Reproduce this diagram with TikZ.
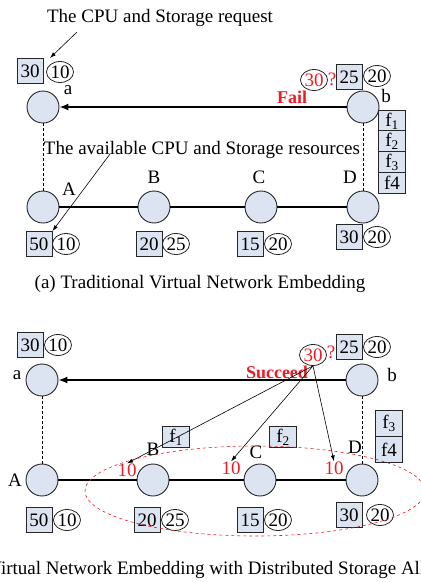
\documentclass[tikz,border=0pt]{standalone}
\usepackage{fontspec}
\setmainfont{Liberation Serif}
\usetikzlibrary{shapes.geometric,arrows.meta}
\definecolor{nodefill}{RGB}{220,228,242}
\definecolor{failred}{RGB}{237,28,36}
\newcommand{\figfont}{\fontsize{19}{22}\selectfont}
\newcommand{\tagfont}{\fontsize{18}{20}\selectfont\bfseries}

\tikzset{
  vnode/.style={circle, draw=black!85, line width=0.9pt, fill=nodefill, minimum size=32pt, inner sep=0pt},
  cpubox/.style={rectangle, draw=black!85, line width=0.8pt, fill=nodefill, minimum width=26pt, minimum height=25pt, inner sep=0pt},
  stocirc/.style={ellipse, draw=black!85, line width=0.8pt, minimum width=27pt, minimum height=21pt, inner sep=0pt},
  fbox/.style={rectangle, draw=black!85, line width=0.8pt, fill=nodefill, minimum width=27pt, minimum height=21pt, inner sep=0pt},
  share/.style={text=failred, inner sep=0pt},
  tip/.style={-{Latex[length=6pt,width=4pt]}, line width=0.6pt},
  vlink/.style={line width=1.5pt, -{Latex[length=9pt,width=7pt]}},
  plink/.style={line width=1.5pt},
  updown/.style={densely dashed, line width=0.6pt},
}

\begin{document}
\begin{tikzpicture}[x=1pt, y=-1pt, font=\figfont]
\useasboundingbox (0,0) rectangle (421,582);

% ---------- (a) traditional embedding ----------
% Virtual request a--b:
\node[vnode] (a1) at (43,107) {};
\node[vnode] (b1) at (363,107) {};
\node at (68,90) {a};
\node at (386,96) {b};
\node[cpubox] (a1cpu) at (30,71) {30};
\node[stocirc] (a1sto) at (60,72) {10};
\node[stocirc, text=failred] (b1ask) at (314,80) {30};
\node[text=failred, inner sep=0pt] at (332,79) {?};
\node[cpubox] (b1cpu) at (349,77) {25};
\node[stocirc] (b1sto) at (377,76) {20};
\draw[vlink] (b1) -- (a1);
\node[text=failred, font=\tagfont] at (292,97) {Fail};

% Substrate path A--B--C--D:
\foreach \n/\x in {A/43,B/154,C/261,D/363}
  \node[vnode] (\n1) at (\x,207) {};
\draw[plink] (A1) -- (B1) -- (C1) -- (D1);
\foreach \n/\x/\y in {A/69/189,B/154/177,C/259/177,D/350/177}
  \node at (\x,\y) {\n};
\draw[updown] (a1) -- (A1);
\draw[updown] (b1) -- (D1);

% available CPU / storage
\foreach \n/\xc/\xs/\y/\c/\s in {A/39/66/244/50/10, B/149/176/244/20/25, C/250/278/244/15/20, D/349/377/237/30/20} {
  \node[cpubox] (\n1cpu) at (\xc,\y) {\c};
  \node[stocirc] (\n1sto) at (\xs,\y) {\s};
}

% file blocks all kept on D
\foreach \i/\y/\t in {1/121/{f\textsubscript{1}}, 2/141/{f\textsubscript{2}}, 3/162/{f\textsubscript{3}}, 4/183/{f4}}
  \node[fbox] (fa\i) at (392,\y) {\t};

% Notes:
\node (reqtxt) at (160,18) {The CPU and Storage request};
\coordinate (reqfrom) at (77,32);
\coordinate (reqto) at (50,58);
\draw[tip] (reqfrom) -- (reqto);
\node (availtxt) at (202,150) {The available CPU and Storage resources};
\coordinate (availfrom) at (110,154);
\draw[tip] (availfrom) -- (A1cpu.north east);

\node (capa) at (200,284) {(a) Traditional Virtual Network Embedding};

% ---------- (b) distributed storage ----------
\node[vnode] (a2) at (42,380) {};
\node[vnode] (b2) at (362,380) {};
\node at (17,375) {a};
\node at (392,375) {b};
\node[cpubox] (a2cpu) at (30,345) {30};
\node[stocirc] (a2sto) at (58,345) {10};
\node[stocirc, text=failred] (b2ask) at (313,355) {30};
\node[text=failred, inner sep=0pt] at (331,352) {?};
\node[cpubox] (b2cpu) at (349,347) {25};
\node[stocirc] (b2sto) at (377,347) {20};
\draw[vlink] (b2) -- (a2);
\node[text=failred, font=\tagfont] at (277,372) {Succeed};

\foreach \n/\x in {A/42,B/153,C/260,D/362}
  \node[vnode] (\n2) at (\x,480) {};
\draw[plink] (A2) -- (B2) -- (C2) -- (D2);
\foreach \n/\x/\y in {A/15/480,B/153/449,C/256/452,D/355/447}
  \node at (\x,\y) {\n};
\draw[updown] (a2) -- (A2);
\draw[updown] (b2) -- (D2);

\foreach \n/\xc/\xs/\y/\c/\s in {A/39/67/520/50/10, B/147/175/520/20/25, C/250/278/520/15/20, D/349/380/515/30/20} {
  \node[cpubox] (\n2cpu) at (\xc,\y) {\c};
  \node[stocirc] (\n2sto) at (\xs,\y) {\s};
}

% spread file blocks
\node[fbox] (fb1) at (176,437) {f\textsubscript{1}};
\node[fbox] (fb2) at (283,437) {f\textsubscript{2}};
\node[fbox, minimum height=26pt] (fb3) at (389,423.5) {f\textsubscript{3}};
\node[fbox, minimum height=26pt] (fb4) at (389,449.5) {f4};

% storage taken on B, C, D
\foreach \i/\x/\y in {1/127/470, 2/231/468, 3/334/468} {
  \node[share] (part\i) at (\x,\y) {10};
  \draw[tip] (b2ask.south) -- (part\i.north);
}

\draw[failred, dashed, line width=0.6pt] (255,491) ellipse [x radius=170, y radius=45];

\node[anchor=base west] (capb) at (-42,574) {(b) Virtual Network Embedding with Distributed Storage Allocation};
\end{tikzpicture}
\end{document}
